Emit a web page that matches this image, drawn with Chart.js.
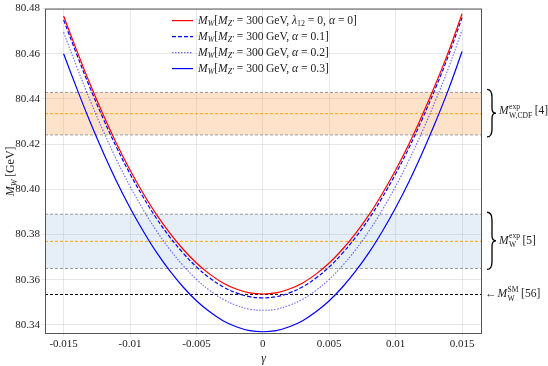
<!DOCTYPE html>
<html>
<head>
<meta charset="utf-8">
<script src="https://cdn.jsdelivr.net/npm/chart.js@4.4.0/dist/chart.umd.min.js"></script>
<style>
  html, body { margin: 0; padding: 0; background: #fff; }
  #wrap { width: 548px; height: 366px; }
</style>
</head>
<body>
<div id="wrap"><canvas id="mwChart"></canvas></div>
<script>
// gamma grid and M_W curves (GeV)
var gammaVals = [-0.015, -0.014, -0.013, -0.012, -0.011, -0.010, -0.009, -0.008, -0.007, -0.006, -0.005, -0.004, -0.003, -0.002, -0.001, 0,
                 0.001, 0.002, 0.003, 0.004, 0.005, 0.006, 0.007, 0.008, 0.009, 0.010, 0.011, 0.012, 0.013, 0.014, 0.015];
var mwAlpha0 = [80.4767, 80.4613, 80.4465, 80.4328, 80.4201, 80.4086, 80.3982, 80.3888, 80.3806, 80.3735, 80.3674, 80.3625, 80.3586, 80.3559, 80.3542, 80.3537,
                80.3542, 80.3559, 80.3586, 80.3625, 80.3674, 80.3735, 80.3806, 80.3888, 80.3982, 80.4086, 80.4201, 80.4328, 80.4465, 80.4613, 80.4777];
var mwAlpha01 = [80.4750, 80.4596, 80.4448, 80.4311, 80.4184, 80.4069, 80.3965, 80.3871, 80.3789, 80.3718, 80.3657, 80.3608, 80.3569, 80.3542, 80.3525, 80.3520,
                 80.3525, 80.3542, 80.3569, 80.3608, 80.3657, 80.3718, 80.3789, 80.3871, 80.3965, 80.4069, 80.4184, 80.4311, 80.4448, 80.4596, 80.4760];
var mwAlpha02 = [80.4695, 80.4541, 80.4393, 80.4256, 80.4129, 80.4014, 80.3910, 80.3816, 80.3734, 80.3663, 80.3602, 80.3553, 80.3514, 80.3487, 80.3470, 80.3465,
                 80.3470, 80.3487, 80.3514, 80.3553, 80.3602, 80.3663, 80.3734, 80.3816, 80.3910, 80.4014, 80.4129, 80.4256, 80.4393, 80.4541, 80.4705];
var mwAlpha03 = [80.4600, 80.4446, 80.4298, 80.4161, 80.4034, 80.3919, 80.3815, 80.3721, 80.3639, 80.3568, 80.3507, 80.3458, 80.3419, 80.3392, 80.3375, 80.3370,
                 80.3375, 80.3392, 80.3419, 80.3458, 80.3507, 80.3568, 80.3639, 80.3721, 80.3815, 80.3919, 80.4034, 80.4161, 80.4298, 80.4446, 80.4610];

// experimental bands [low, central, high] and SM value
var cdfBand = [80.4241, 80.4335, 80.4429];
var pdgBand = [80.3650, 80.3770, 80.3890];
var smValue = 80.3535;

var xTicks = [-0.015, -0.01, -0.005, 0, 0.005, 0.01, 0.015];
var xTickLabels = ["-0.015", "-0.01", "-0.005", "0", "0.005", "0.01", "0.015"];
var yTicks = [80.34, 80.36, 80.38, 80.40, 80.42, 80.44, 80.46, 80.48];

var serif = '"Liberation Serif", "DejaVu Serif", serif';

function pts(ys) {
  return gammaVals.map(function (g, i) { return { x: g, y: ys[i] }; });
}

// draw a run of [text, style] pieces; style: r roman, i italic, sub/subi, sup
function drawMath(ctx, parts, x, y, size) {
  parts.forEach(function (p) {
    var txt = p[0], st = p[1];
    var fs = size, dy = 0, it = false;
    if (st === 'i') it = true;
    if (st === 'sub' || st === 'subi') { fs = size * 0.68; dy = size * 0.28; it = (st === 'subi'); }
    if (st === 'sup') { fs = size * 0.68; dy = -size * 0.38; }
    ctx.font = (it ? 'italic ' : '') + fs + 'px ' + serif;
    ctx.fillText(txt, x, y + dy);
    x += ctx.measureText(txt).width;
  });
  return x;
}

// symbol with stacked super/subscript, e.g. M^exp_W
function drawStacked(ctx, x, y, sup, sub, tail) {
  ctx.font = 'italic 11.5px ' + serif;
  ctx.fillText('M', x, y);
  x += ctx.measureText('M').width + 0.5;
  ctx.font = '7.6px ' + serif;
  ctx.fillText(sup, x, y - 4.5);
  ctx.fillText(sub, x, y + 4.5);
  var w = Math.max(ctx.measureText(sup).width, ctx.measureText(sub).width);
  ctx.font = '11.5px ' + serif;
  ctx.fillText(tail, x + w + 2.5, y);
}

function mwHead(sub) {
  return [['M', 'i'], ['W', 'subi'], ['[', 'r'], ['M', 'i'], ['Z\u2032', 'subi'], [' = 300\u2009GeV, ', 'r']].concat(sub);
}

var legendItems = [
  { color: '#ff0000', dash: [], parts: mwHead([['\u03bb', 'i'], ['12', 'sub'], [' = 0, ', 'r'], ['\u03b1', 'i'], [' = 0]', 'r']]) },
  { color: '#0000ff', dash: [4, 2], parts: mwHead([['\u03b1', 'i'], [' = 0.1]', 'r']]) },
  { color: 'rgba(0,0,255,0.55)', dash: [1.5, 1.5], parts: mwHead([['\u03b1', 'i'], [' = 0.2]', 'r']]) },
  { color: '#0000ff', dash: [], parts: mwHead([['\u03b1', 'i'], [' = 0.3]', 'r']]) }
];

function brace(ctx, x, y0, y1) {
  var ym = (y0 + y1) / 2, w = 5;
  ctx.beginPath();
  ctx.moveTo(x, y0);
  ctx.quadraticCurveTo(x + w, y0, x + w, y0 + 8);
  ctx.lineTo(x + w, ym - 5);
  ctx.quadraticCurveTo(x + w, ym, x + w + 4, ym);
  ctx.quadraticCurveTo(x + w, ym, x + w, ym + 5);
  ctx.lineTo(x + w, y1 - 8);
  ctx.quadraticCurveTo(x + w, y1, x, y1);
  ctx.stroke();
}

var bandsPlugin = {
  id: 'bands',
  beforeDatasetsDraw: function (chart) {
    var ctx = chart.ctx, a = chart.chartArea, ys = chart.scales.y;
    ctx.save();
    ctx.beginPath();
    ctx.rect(a.left, a.top, a.right - a.left, a.bottom - a.top);
    ctx.clip();
    [[cdfBand, 'rgba(253,150,60,0.27)'], [pdgBand, 'rgba(120,170,215,0.19)']].forEach(function (b) {
      var top = ys.getPixelForValue(b[0][2]), bot = ys.getPixelForValue(b[0][0]);
      ctx.fillStyle = b[1];
      ctx.fillRect(a.left, top, a.right - a.left, bot - top);
      ctx.lineWidth = 1;
      ctx.setLineDash([3, 2]);
      ctx.strokeStyle = '#999999';
      [top, bot].forEach(function (py) {
        ctx.beginPath(); ctx.moveTo(a.left, py); ctx.lineTo(a.right, py); ctx.stroke();
      });
      var pc = ys.getPixelForValue(b[0][1]);
      ctx.strokeStyle = '#ffa500';
      ctx.beginPath(); ctx.moveTo(a.left, pc); ctx.lineTo(a.right, pc); ctx.stroke();
    });
    var ps = ys.getPixelForValue(smValue);
    ctx.strokeStyle = '#000000';
    ctx.setLineDash([3, 2]);
    ctx.beginPath(); ctx.moveTo(a.left, ps); ctx.lineTo(a.right, ps); ctx.stroke();
    ctx.restore();
  },
  afterDraw: function (chart) {
    var ctx = chart.ctx, a = chart.chartArea, ys = chart.scales.y;
    ctx.save();
    // frame
    ctx.strokeStyle = '#555555';
    ctx.lineWidth = 1;
    ctx.setLineDash([]);
    ctx.strokeRect(a.left + 0.5, a.top + 0.5, a.right - a.left - 1, a.bottom - a.top - 1);

    // legend
    ctx.fillStyle = '#222';
    ctx.textBaseline = 'middle';
    legendItems.forEach(function (it, i) {
      var ly = a.top + 12 + i * 16, lx = a.left + 127;
      ctx.strokeStyle = it.color;
      ctx.lineWidth = 1.2;
      ctx.setLineDash(it.dash);
      ctx.beginPath(); ctx.moveTo(lx, ly); ctx.lineTo(lx + 21, ly); ctx.stroke();
      ctx.setLineDash([]);
      drawMath(ctx, it.parts, lx + 26, ly, 11.6);
    });

    // right-hand annotations
    ctx.strokeStyle = '#000';
    ctx.lineWidth = 1.3;
    ctx.setLineDash([]);
    var bx = a.right + 5;
    var c0 = ys.getPixelForValue(cdfBand[2]) - 3, c1 = ys.getPixelForValue(cdfBand[0]) + 2;
    brace(ctx, bx, c0, c1);
    var p0 = ys.getPixelForValue(pdgBand[2]) - 2, p1 = ys.getPixelForValue(pdgBand[0]) + 1;
    brace(ctx, bx, p0, p1);
    ctx.fillStyle = '#222';
    var tx = bx + 12;
    drawStacked(ctx, tx, (c0 + c1) / 2 - 2, 'exp', 'W,CDF', '[4]');
    drawStacked(ctx, tx, (p0 + p1) / 2, 'exp', 'W', '[5]');

    var sy = ys.getPixelForValue(smValue);
    ctx.font = '11.5px ' + serif;
    ctx.fillText('\u2190', a.right + 3, sy);
    drawStacked(ctx, a.right + 3 + ctx.measureText('\u2190').width + 1, sy, 'SM', 'W', '[56]');

    // y-axis title M_W [GeV]
    ctx.translate(11, (a.top + a.bottom) / 2);
    ctx.rotate(-Math.PI / 2);
    ctx.textAlign = 'left';
    var parts = [['M', 'i'], ['W', 'subi'], ['\u2009[GeV]', 'r']];
    var tw = 0;
    parts.forEach(function (p) {
      ctx.font = (p[1] === 'subi' ? 'italic 8.2px ' : (p[1] === 'i' ? 'italic 12px ' : '12px ')) + serif;
      tw += ctx.measureText(p[0]).width;
    });
    drawMath(ctx, parts, -tw / 2, 0, 12);
    ctx.restore();
  }
};

function lineSet(label, ys, color, dash) {
  return {
    label: label,
    data: pts(ys),
    borderColor: color,
    borderWidth: 1.2,
    borderDash: dash,
    pointRadius: 0,
    tension: 0.4,
    fill: false
  };
}

var ctx = document.getElementById('mwChart');
new Chart(ctx, {
  type: 'line',
  data: {
    datasets: [
      lineSet('alpha=0', mwAlpha0, '#ff0000', []),
      lineSet('alpha=0.1', mwAlpha01, '#0000ff', [4, 2]),
      lineSet('alpha=0.2', mwAlpha02, 'rgba(0,0,255,0.55)', [1.5, 1.5]),
      lineSet('alpha=0.3', mwAlpha03, '#0000ff', [])
    ]
  },
  options: {
    responsive: true,
    maintainAspectRatio: false,
    animation: false,
    layout: { padding: { top: 7, right: 66, left: 0, bottom: 0 } },
    plugins: {
      legend: { display: false },
      tooltip: { enabled: false }
    },
    scales: {
      x: {
        type: 'linear',
        min: -0.0164,
        max: 0.0165,
        afterBuildTicks: function (s) { s.ticks = xTicks.map(function (v) { return { value: v }; }); },
        afterFit: function (s) { s.height = 32; },
        ticks: {
          font: { family: serif, size: 11 },
          color: '#222',
          padding: 1,
          maxRotation: 0,
          callback: function (v) { var i = xTicks.indexOf(v); return i >= 0 ? xTickLabels[i] : ''; }
        },
        grid: { color: 'rgba(0,0,0,0.09)', tickLength: 3 },
        border: { display: false },
        title: { display: true, text: '\u03b3', font: { family: serif, size: 12, style: 'italic' }, color: '#222', padding: { top: 0, bottom: 0 } }
      },
      y: {
        min: 80.336,
        max: 80.48,
        afterBuildTicks: function (s) { s.ticks = yTicks.map(function (v) { return { value: v }; }); },
        afterFit: function (s) { s.width = 45; },
        ticks: {
          font: { family: serif, size: 11 },
          color: '#222',
          padding: 2,
          callback: function (v) { return v.toFixed(2); }
        },
        grid: { color: 'rgba(0,0,0,0.09)', tickLength: 3 },
        border: { display: false }
      }
    }
  },
  plugins: [bandsPlugin]
});
</script>
</body>
</html>
